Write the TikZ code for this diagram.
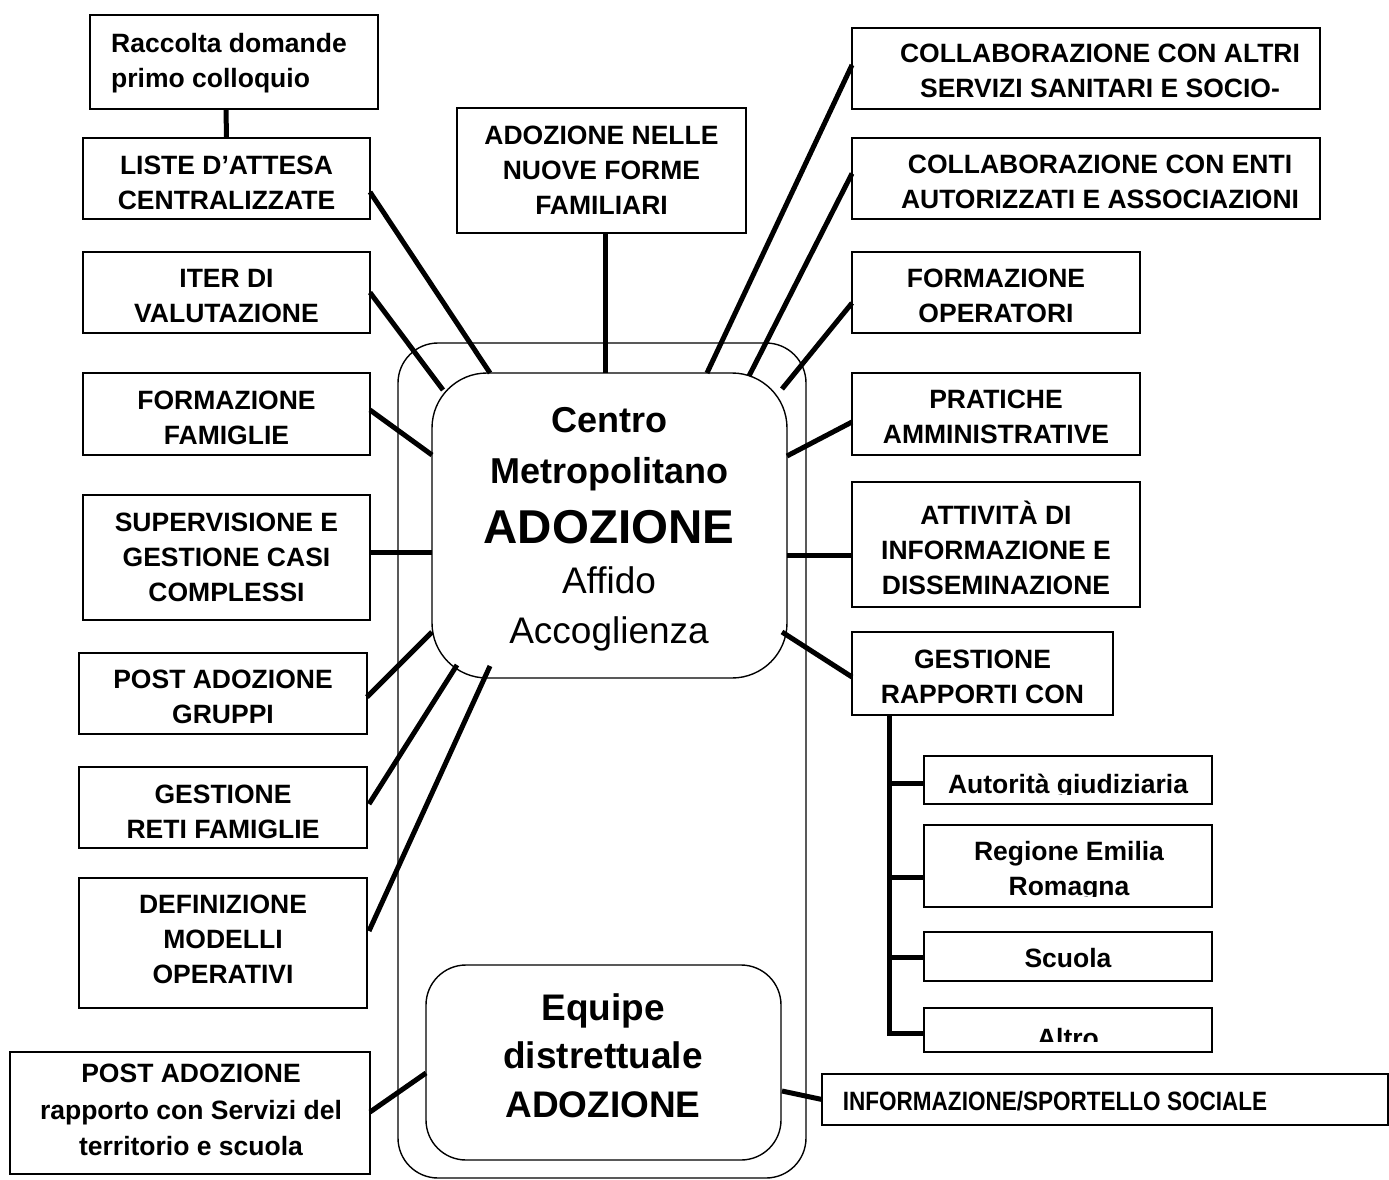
\documentclass[tikz,border=0pt]{standalone}
\usepackage{fontspec}
\setmainfont{Liberation Sans}
\usepackage{graphicx}
\usetikzlibrary{calc}
\tikzset{
  bx/.style={draw, line width=1.8pt, inner sep=0pt, outer sep=0pt, anchor=north west},
  rbx/.style={draw, line width=1.4pt, inner sep=0pt, outer sep=0pt},
  conn/.style={line width=5pt},
  lbl/.style={inner sep=0pt, align=center, font=\fontsize{26.5}{35}\selectfont\bfseries},
  bigb/.style={inner sep=0pt, anchor=base, font=\fontsize{36}{40}\selectfont\bfseries},
  hugeb/.style={inner sep=0pt, anchor=base, font=\fontsize{47.5}{50}\selectfont\bfseries},
  bigr/.style={inner sep=0pt, anchor=base, font=\fontsize{37}{40}\selectfont},
  eqb/.style={inner sep=0pt, anchor=base, font=\fontsize{37}{40}\selectfont\bfseries},
}
\begin{document}
\begin{tikzpicture}[x=1pt,y=-1pt]
\useasboundingbox (0,0) rectangle (1389,1180);

% rounded containers
\node[rbx, rounded corners=40pt, minimum width=408pt, minimum height=835pt] (outer) at (602,760.5) {};
\node[rbx, rounded corners=55pt, minimum width=355pt, minimum height=305pt] (cm) at (609.5,525.5) {};
\node[rbx, rounded corners=40pt, minimum width=355pt, minimum height=195pt] (eq) at (603.5,1062.5) {};

% boxes
\node[bx, minimum width=288pt, minimum height=94pt] (raccolta) at (90,15) {};
\node[bx, minimum width=287pt, minimum height=81pt] (liste) at (83,138) {};
\node[bx, minimum width=287pt, minimum height=81pt] (iter) at (83,252) {};
\node[bx, minimum width=287pt, minimum height=82pt] (formfam) at (83,373) {};
\node[bx, minimum width=287pt, minimum height=125pt] (superv) at (83,495) {};
\node[bx, minimum width=288pt, minimum height=81pt] (postgr) at (79,653) {};
\node[bx, minimum width=288pt, minimum height=81pt] (reti) at (79,767) {};
\node[bx, minimum width=288pt, minimum height=130pt] (defin) at (79,878) {};
\node[bx, minimum width=360pt, minimum height=122pt] (postrap) at (10,1052) {};
\node[bx, minimum width=289pt, minimum height=125pt] (adnelle) at (457,108) {};
\node[bx, minimum width=468pt, minimum height=81pt] (collab1) at (852,28) {};
\node[bx, minimum width=468pt, minimum height=81pt] (collab2) at (852,138) {};
\node[bx, minimum width=288pt, minimum height=81pt] (formop) at (852,252) {};
\node[bx, minimum width=288pt, minimum height=82pt] (prat) at (852,373) {};
\node[bx, minimum width=288pt, minimum height=125pt] (attiv) at (852,482) {};
\node[bx, minimum width=261pt, minimum height=83pt] (gestrap) at (852,632) {};
\node[bx, minimum width=288pt, minimum height=48pt] (autor) at (924,756) {};
\node[bx, minimum width=288pt, minimum height=82pt] (regione) at (924,825) {};
\node[bx, minimum width=288pt, minimum height=49pt] (scuola) at (924,932) {};
\node[bx, minimum width=288pt, minimum height=44pt] (altro) at (924,1008) {};
\node[bx, minimum width=566pt, minimum height=51pt] (info) at (822,1074) {};

% texts
\node[lbl, anchor=north west, align=left] (raccolta-t) at (111,33) {Raccolta domande\\primo colloquio};
\node[lbl] (liste-t) at (226.5,183) {LISTE D’ATTESA\\CENTRALIZZATE};
\node[lbl] (iter-t) at (226.5,296) {ITER DI\\VALUTAZIONE};
\node[lbl] (formfam-t) at (226.5,418) {FORMAZIONE\\FAMIGLIE};
\node[lbl] (superv-t) at (226.5,557) {SUPERVISIONE E\\GESTIONE CASI\\COMPLESSI};
\node[lbl] (postgr-t) at (223,697) {POST ADOZIONE\\GRUPPI};
\node[lbl] (reti-t) at (223,811.5) {GESTIONE\\RETI FAMIGLIE};
\node[lbl] (defin-t) at (223,939) {DEFINIZIONE\\MODELLI\\OPERATIVI};
\node[lbl, font=\fontsize{26.5}{36.5}\selectfont\bfseries] (postrap-t) at (191,1110) {POST ADOZIONE\\rapporto con Servizi del\\territorio e scuola};
\node[lbl] (adnelle-t) at (601.5,170) {ADOZIONE NELLE\\NUOVE FORME\\FAMILIARI};
\node[lbl] (collab1-t) at (1100,71) {COLLABORAZIONE CON ALTRI\\SERVIZI SANITARI E SOCIO-};
\node[lbl] (collab2-t) at (1100,182) {COLLABORAZIONE CON ENTI\\AUTORIZZATI E ASSOCIAZIONI};
\node[lbl] (formop-t) at (996,296) {FORMAZIONE\\OPERATORI};
\node[lbl] (prat-t) at (996,417) {PRATICHE\\AMMINISTRATIVE};
\node[lbl] (attiv-t) at (996,547.5) {ATTIVITÀ DI\\INFORMAZIONE E\\DISSEMINAZIONE};
\node[lbl] (gestrap-t) at (982.5,677) {GESTIONE\\RAPPORTI CON};
\begin{scope}
  \clip (924,756) rectangle (1212,794);
  \node[lbl, anchor=base] (autor-t) at (1068,793) {Autorità giudiziaria};
\end{scope}
\begin{scope}
  \clip (924,825) rectangle (1212,896);
  \node[lbl] (regione-t) at (1069,871) {Regione Emilia\\Romagna};
\end{scope}
\node[lbl, anchor=base] (scuola-t) at (1068,967) {Scuola};
\begin{scope}
  \clip (924,1008) rectangle (1212,1041);
  \node[lbl, anchor=base] (altro-t) at (1068,1047) {Altro};
\end{scope}
\node[lbl, anchor=base] (info-t) at (1055,1110) {\scalebox{0.85}[1]{INFORMAZIONE/SPORTELLO SOCIALE}};

% centre texts
\node[bigb] (cm-1) at (609,432) {Centro};
\node[bigb] (cm-2) at (609,483) {Metropolitano};
\node[hugeb] (cm-3) at (609,543) {ADOZIONE};
\node[bigr] (cm-4) at (609,593) {Affido};
\node[bigr] (cm-5) at (609,643) {Accoglienza};
\node[eqb] (eq-1) at (603,1020) {Equipe};
\node[eqb] (eq-2) at (603,1068) {distrettuale};
\node[eqb] (eq-3) at (603,1117) {ADOZIONE};

% connectors
\draw[conn] ($(raccolta.south)+(-8,0)$) -- (liste.north);
\draw[conn] ($(liste.east)+(0,13.5)$) -- ($(cm.north west)+(58,0)$);
\draw[conn] (iter.east) -- ($(cm.north west)+(11,17)$);
\draw[conn] ($(formfam.east)+(0,-4)$) -- ($(cm.north west)+(0,82)$);
\draw[conn] ($(superv.east)+(0,-5.5)$) -- ($(cm.west)+(0,26.5)$);
\draw[conn] ($(postgr.east)+(0,3.5)$) -- ($(cm.west)+(0,106.5)$);
\draw[conn] ($(reti.east)+(2,-3.5)$) -- ($(cm.south west)+(25,-13)$);
\draw[conn] ($(defin.east)+(2,-12)$) -- ($(cm.south west)+(58,-12)$);
\draw[conn] ($(postrap.east)+(0,-1)$) -- ($(eq.west)+(0,10.5)$);
\draw[conn] ($(adnelle.south)+(4,0)$) -- ($(cm.north)+(-4,0)$);
\draw[conn] ($(collab1.west)+(0,-3.5)$) -- ($(cm.north)+(97.5,0)$);
\draw[conn] ($(collab2.west)+(0,-5)$) -- ($(cm.north east)+(-38,3)$);
\draw[conn] ($(formop.west)+(0,10.5)$) -- ($(cm.north east)+(-5,16)$);
\draw[conn] ($(prat.west)+(0,8)$) -- ($(cm.north east)+(0,83)$);
\draw[conn] ($(attiv.west)+(0,10.5)$) -- ($(cm.east)+(0,29.5)$);
\draw[conn] ($(gestrap.west)+(0,3.5)$) -- ($(cm.south east)+(-5,-46)$);
\draw[conn] ($(eq.east)+(1,28.5)$) -- (info.west);

% tree of GESTIONE RAPPORTI CON
\coordinate (trunk) at ($(gestrap.south west)+(37,0)$);
\coordinate (b1) at ($(autor.west)+(0,3)$);
\coordinate (b2) at ($(regione.west)+(0,11)$);
\coordinate (b3) at ($(scuola.west)+(0,0.5)$);
\coordinate (b4) at ($(altro.west)+(0,3)$);
\draw[conn] (trunk) |- (b4);
\draw[conn] (trunk |- b1) -- (b1);
\draw[conn] (trunk |- b2) -- (b2);
\draw[conn] (trunk |- b3) -- (b3);
\end{tikzpicture}
\end{document}
